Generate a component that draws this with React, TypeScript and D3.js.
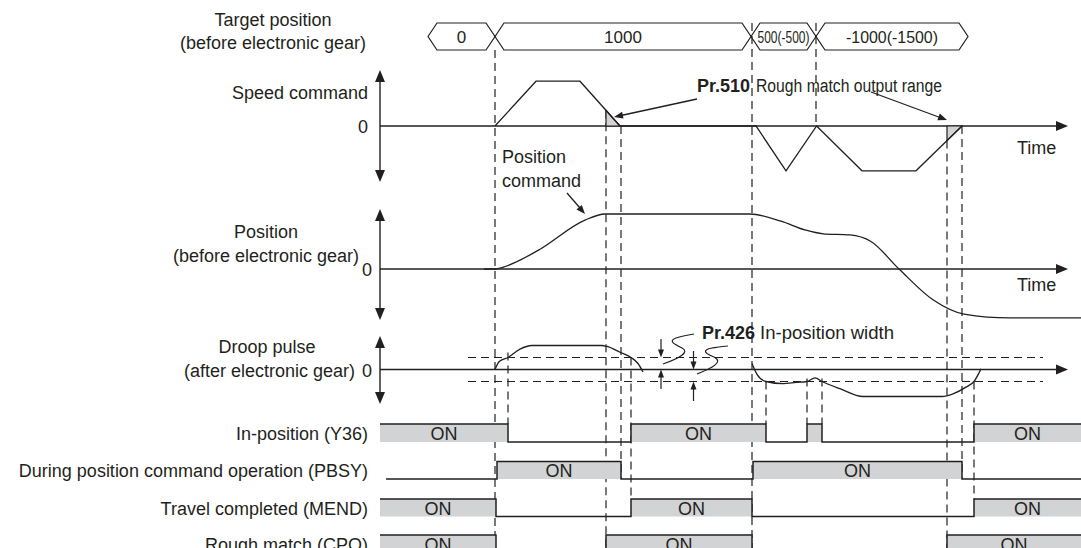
import React from "react";
import * as d3 from "d3";

// ---------- data (time in arbitrary units) ----------
const targetLabels = ["0", "1000", "500(-500)", "-1000(-1500)"];
const targetBounds = [24, 57.5, 185.5, 218, 294];

const speedTimes = [57.5, 78, 100, 120, 188, 203, 218.3, 241, 268, 291];
const speedValues = [0, 1, 1, 0, 0, -1, 0, -1, -1, 0];

const roughMatchWindows = [
  [113, 120],
  [283.5, 291],
];

const positionTimes = [52, 57.5, 63, 70.5, 80, 102.5, 112.5, 185, 200.5, 212.5, 221.5, 235, 245.5, 259.5, 276.5, 292, 315, 351];
const positionValues = [0, 0, 0.05, 0.17, 0.36, 0.89, 1.0, 1.0, 0.87, 0.71, 0.64, 0.62, 0.5, 0, -0.56, -0.82, -0.89, -0.89];

const droop1Times = [57.5, 59.5, 64, 70, 76, 111, 113.5, 120, 125.5, 129, 131.5];
const droop1Values = [0, 0.65, 1.0, 1.7, 2.0, 2.0, 1.92, 1.44, 1.0, 0.5, -0.2];

const droop2Times = [186, 188.5, 193, 201.5, 208, 213.5, 217.5, 221, 230, 241.5, 281, 286.5, 293, 297, 300.5];
const droop2Values = [0.5, -0.4, -1.0, -1.18, -1.08, -1.0, -0.7, -1.0, -1.6, -2.25, -2.25, -2.03, -1.47, -1.0, 0.05];

const signalNames = [
  "In-position (Y36)",
  "During position command operation (PBSY)",
  "Travel completed (MEND)",
  "Rough match (CPO)",
];
const signalInitial = [true, false, true, true];
const signalStart = [0, 3, 0, 0];
const signalTransitions = [
  [64, 125.5, 193, 213.5, 221, 297],
  [58.5, 120.5, 186.5, 291],
  [58, 125.5, 186, 297],
  [58, 113, 186, 283.5],
];

// dashed timing markers: time, start anchor, end anchor
const markerTimes = [57.5, 64, 113, 120.5, 125.5, 186, 193, 213.5, 218, 221, 283.5, 291, 297];
const markerFrom = ["boxBottom", "droopTop", "speed", "speedZero", "droopUpper", "boxTop", "droopLower", "droopBump", "boxTop", "droopBump", "speed", "speedZero", "droopLower"];
const markerTo = ["bottom", "row0Top", "bottom", "row1Low", "row2Top", "bottom", "row0Top", "row0Top", "speedZero", "row0Top", "bottom", "row1Low", "row2Top"];

// ---------- layout ----------
const W = 1081;
const H = 548;
const ink = "#231f20";
const gray = "#d1d3d4";
const font = "'Liberation Sans', Arial, Helvetica, sans-serif";
const FS = 18;

const x = d3.scaleLinear().domain([0, 350.5]).range([380, 1081]);
const axisX = x(0);
const axisEnd = 1068;

const speedY = d3.scaleLinear().domain([-1, 1]).range([170.8, 81.2]);
const posY = d3.scaleLinear().domain([-1, 1]).range([324, 214]);
const droopY = d3.scaleLinear().domain([-1, 1]).range([381.5, 357.5]);

const rows = [
  { top: 424, low: 442 },
  { top: 461.5, low: 479 },
  { top: 499, low: 516.5 },
  { top: 535, low: 553 },
];

const boxTop = 23;
const boxBot = 50;
const slant = 9;

const speedAt = d3.scaleLinear().domain(speedTimes).range(speedValues);

function head(tx: number, ty: number, angle: number, len = 12, w = 10) {
  const bx = tx - len * Math.cos(angle);
  const by = ty - len * Math.sin(angle);
  const px = (-Math.sin(angle) * w) / 2;
  const py = (Math.cos(angle) * w) / 2;
  return `${tx},${ty} ${bx + px},${by + py} ${bx - px},${by - py}`;
}

function anchorY(key: string, t: number): number {
  switch (key) {
    case "boxTop":
      return boxTop;
    case "boxBottom":
      return boxBot;
    case "speed":
      return speedY(speedAt(t));
    case "speedZero":
      return speedY(0);
    case "droopTop":
      return droopY(1) - 5;
    case "droopUpper":
      return droopY(1);
    case "droopLower":
      return droopY(-1);
    case "droopBump":
      return droopY(-0.75);
    case "row0Top":
      return rows[0].top;
    case "row1Low":
      return rows[1].low;
    case "row2Top":
      return rows[2].top;
    default:
      return H;
  }
}

const lineGen = d3
  .line<[number, number]>()
  .x((d) => d[0])
  .y((d) => d[1]);

function curvePath(ts: number[], vs: number[], ys: d3.ScaleLinear<number, number>, curve: d3.CurveFactory) {
  const pts: [number, number][] = ts.map((t, i) => [x(t), ys(vs[i])]);
  return d3.line<[number, number]>().x((d) => d[0]).y((d) => d[1]).curve(curve)(pts) || "";
}

function VAxis({ top, bottom, zero }: { top: number; bottom: number; zero: number }) {
  return (
    <g>
      <line x1={axisX} x2={axisX} y1={top + 10} y2={bottom - 10} stroke={ink} strokeWidth={1.4} />
      <polygon points={head(axisX, top, -Math.PI / 2, 12, 10)} fill={ink} />
      <polygon points={head(axisX, bottom, Math.PI / 2, 12, 10)} fill={ink} />
      <line x1={axisX} x2={axisEnd - 10} y1={zero} y2={zero} stroke={ink} strokeWidth={1.4} />
      <polygon points={head(axisEnd, zero, 0, 12, 10)} fill={ink} />
    </g>
  );
}

export default function App() {
  // target hexagons
  const hexes = targetLabels.map((lab, i) => {
    const a = x(targetBounds[i]);
    const b = x(targetBounds[i + 1]);
    const mid = (boxTop + boxBot) / 2;
    const pts = `${a},${mid} ${a + slant},${boxTop} ${b - slant},${boxTop} ${b},${mid} ${b - slant},${boxBot} ${a + slant},${boxBot}`;
    const compress: Record<string, number> = { "500(-500)": 52, "-1000(-1500)": 92 };
    return (
      <g key={lab}>
        <polygon points={pts} fill="none" stroke={ink} strokeWidth={1.2} />
        <text
          x={(a + b) / 2}
          y={mid + 1}
          fontSize={17}
          textAnchor="middle"
          dominantBaseline="central"
          fill={ink}
          {...(compress[lab] ? { textLength: compress[lab], lengthAdjust: "spacingAndGlyphs" } : {})}
        >
          {lab}
        </text>
      </g>
    );
  });

  const speedPts: [number, number][] = speedTimes.map((t, i) => [x(t), speedY(speedValues[i])]);

  const triangles = roughMatchWindows.map(([t1, t2], i) => {
    const v = speedAt(t1);
    const pts = `${x(t1)},${speedY(0)} ${x(t1)},${speedY(v)} ${x(t2)},${speedY(0)}`;
    return <polygon key={i} points={pts} fill={gray} stroke={ink} strokeWidth={1.2} />;
  });

  const markers = markerTimes.map((t, i) => (
    <line
      key={i}
      x1={x(t)}
      x2={x(t)}
      y1={anchorY(markerFrom[i], t)}
      y2={anchorY(markerTo[i], t)}
      stroke={ink}
      strokeWidth={1.2}
      strokeDasharray="8,5"
    />
  ));

  const signals = signalNames.map((name, r) => {
    const row = rows[r];
    const trans = signalTransitions[r];
    let state = signalInitial[r];
    let start = signalStart[r];
    const segs: { a: number; b: number; on: boolean }[] = [];
    trans.forEach((t) => {
      segs.push({ a: start, b: t, on: state });
      state = !state;
      start = t;
    });
    segs.push({ a: start, b: 350.5, on: state });
    let d = `M${x(signalStart[r])},${signalInitial[r] ? row.top : row.low}`;
    let s = signalInitial[r];
    trans.forEach((t) => {
      d += `H${x(t)}V${!s ? row.top : row.low}`;
      s = !s;
    });
    d += `H${W}`;
    return (
      <g key={name}>
        {segs
          .filter((g) => g.on)
          .map((g, k) => (
            <rect key={k} x={x(g.a)} y={row.top} width={x(g.b) - x(g.a)} height={row.low - row.top} fill={gray} />
          ))}
        <path d={d} fill="none" stroke={ink} strokeWidth={1.5} />
        {segs
          .filter((g) => g.on && x(g.b) - x(g.a) > 40)
          .map((g, k) => (
            <text
              key={"t" + k}
              x={(x(g.a) + x(g.b)) / 2}
              y={(row.top + row.low) / 2 + 1}
              fontSize={FS}
              textAnchor="middle"
              dominantBaseline="central"
              fill={ink}
            >
              ON
            </text>
          ))}
        <text x={368} y={(row.top + row.low) / 2 + 1} fontSize={FS} textAnchor="end" dominantBaseline="central" fill={ink}>
          {name}
        </text>
      </g>
    );
  });

  return (
    <svg
      width={W}
      height={H}
      viewBox={`0 0 ${W} ${H}`}
      style={{ position: "absolute", left: 0, top: 0, background: "#fff" }}
      fontFamily={font}
    >
      <rect width={W} height={H} fill="#fff" />

      {/* labels left */}
      <g fill={ink} fontSize={FS} textAnchor="middle" dominantBaseline="central">
        <text x={273} y={20}>Target position</text>
        <text x={273} y={43}>(before electronic gear)</text>
        <text x={368} y={93} textAnchor="end">Speed command</text>
        <text x={368} y={127} textAnchor="end">0</text>
        <text x={266} y={232}>Position</text>
        <text x={266} y={256}>(before electronic gear)</text>
        <text x={372} y={270} textAnchor="end">0</text>
        <text x={267} y={347}>Droop pulse</text>
        <text x={355} y={371} textAnchor="end">(after electronic gear)</text>
        <text x={372} y={371} textAnchor="end">0</text>
        <text x={1017} y={148} textAnchor="start">Time</text>
        <text x={1017} y={285} textAnchor="start">Time</text>
      </g>

      {/* target position */}
      {hexes}

      {/* dashed markers */}
      {markers}

      {/* droop in-position width dashed horizontals */}
      <line x1={468} x2={1043} y1={droopY(1)} y2={droopY(1)} stroke={ink} strokeWidth={1.2} strokeDasharray="8,5" />
      <line x1={468} x2={1043} y1={droopY(-1)} y2={droopY(-1)} stroke={ink} strokeWidth={1.2} strokeDasharray="8,5" />

      {/* axes */}
      <VAxis top={70} bottom={182} zero={speedY(0)} />
      <VAxis top={209} bottom={320} zero={posY(0)} />
      <VAxis top={336} bottom={404} zero={droopY(0)} />

      {/* speed command */}
      {triangles}
      <path d={lineGen(speedPts) || ""} fill="none" stroke={ink} strokeWidth={1.3} />

      {/* position */}
      <path d={curvePath(positionTimes, positionValues, posY, d3.curveMonotoneX)} fill="none" stroke={ink} strokeWidth={1.3} />

      {/* droop pulse */}
      <path d={curvePath(droop1Times, droop1Values, droopY, d3.curveMonotoneX)} fill="none" stroke={ink} strokeWidth={1.3} />
      <path d={curvePath(droop2Times, droop2Values, droopY, d3.curveMonotoneX)} fill="none" stroke={ink} strokeWidth={1.3} />

      {/* Position command annotation */}
      <g fill={ink} fontSize={FS} dominantBaseline="central">
        <text x={502} y={157}>Position</text>
        <text x={502} y={181}>command</text>
      </g>
      <line x1={567} y1={193} x2={580} y2={208} stroke={ink} strokeWidth={1.3} />
      <polygon points={head(585, 214, Math.atan2(21, 18), 9, 7)} fill={ink} />

      {/* Pr.510 annotation */}
      <text x={697} y={86} fontSize={FS} fontWeight="bold" fill={ink} dominantBaseline="central">Pr.510</text>
      <text x={756} y={86} fontSize={FS} fill={ink} dominantBaseline="central" textLength={186} lengthAdjust="spacingAndGlyphs">
        Rough match output range
      </text>
      <line x1={697} y1={99} x2={621} y2={115.5} stroke={ink} strokeWidth={1.3} />
      <polygon points={head(614, 117, Math.atan2(117 - 99, 614 - 697), 9, 7)} fill={ink} />
      <line x1={871} y1={92} x2={940} y2={117.5} stroke={ink} strokeWidth={1.3} />
      <polygon points={head(947, 120, Math.atan2(120 - 92, 947 - 871), 9, 7)} fill={ink} />

      {/* Pr.426 annotation */}
      <text x={702} y={333} fontSize={FS} fontWeight="bold" fill={ink} dominantBaseline="central">Pr.426</text>
      <text x={760} y={333} fontSize={FS} fill={ink} dominantBaseline="central" textLength={134} lengthAdjust="spacingAndGlyphs">
        In-position width
      </text>
      {/* double arrow 1: upper dashed to zero */}
      <line x1={661} x2={661} y1={339} y2={352} stroke={ink} strokeWidth={1.2} />
      <polygon points={head(661, droopY(1), Math.PI / 2, 8, 6)} fill={ink} />
      <polygon points={head(661, droopY(0), -Math.PI / 2, 8, 6)} fill={ink} />
      <line x1={661} x2={661} y1={droopY(0) + 7} y2={389} stroke={ink} strokeWidth={1.2} />
      {/* double arrow 2: zero to lower dashed */}
      <line x1={693.5} x2={693.5} y1={351} y2={364} stroke={ink} strokeWidth={1.2} />
      <polygon points={head(693.5, droopY(0), Math.PI / 2, 8, 6)} fill={ink} />
      <polygon points={head(693.5, droopY(-1), -Math.PI / 2, 8, 6)} fill={ink} />
      <line x1={693.5} x2={693.5} y1={droopY(-1) + 7} y2={401} stroke={ink} strokeWidth={1.2} />
      {/* squiggle leaders */}
      <path d="M663,364 C680,358 690,352 682,348 C674,344 668,341 676,338 C682,336 688,335 694,334" fill="none" stroke={ink} strokeWidth={1.2} />
      <path d="M697,374 C712,368 724,362 714,357 C704,353 702,350 712,348 C718,347 723,346 728,346" fill="none" stroke={ink} strokeWidth={1.2} />

      {/* digital signals */}
      {signals}
    </svg>
  );
}
